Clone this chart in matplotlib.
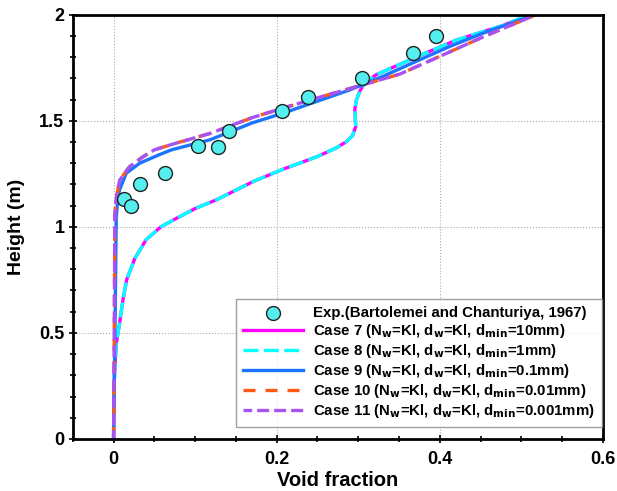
import matplotlib
matplotlib.use("Agg")
import matplotlib.pyplot as plt
from matplotlib.ticker import MultipleLocator

plt.rcParams['font.family'] = ['Liberation Sans', 'DejaVu Sans']
plt.rcParams['font.weight'] = 'bold'
plt.rcParams['mathtext.default'] = 'bf'

# experimental data (Bartolemei and Chanturiya, 1967)
exp_x = [0.013, 0.021, 0.033, 0.063, 0.103, 0.128, 0.142, 0.207, 0.238, 0.305, 0.367, 0.395]
exp_y = [1.13, 1.10, 1.20, 1.256, 1.38, 1.377, 1.45, 1.544, 1.612, 1.70, 1.82, 1.90]

# Case 7 / Case 8 (coincide)
c78_x = [0.0, 0.0003, 0.0012, 0.0033, 0.0074, 0.0115, 0.0160, 0.026, 0.040, 0.058,
         0.077, 0.101, 0.126, 0.151, 0.172, 0.208, 0.249, 0.272, 0.285, 0.293,
         0.297, 0.2965, 0.2958, 0.298, 0.302, 0.308, 0.322, 0.371, 0.420, 0.478, 0.510]
c78_y = [0.0, 0.20, 0.31, 0.45, 0.546, 0.656, 0.75, 0.85, 0.94, 1.0,
         1.04, 1.088, 1.127, 1.175, 1.215, 1.272, 1.33, 1.37, 1.40, 1.43,
         1.473, 1.51, 1.552, 1.60, 1.64, 1.678, 1.717, 1.80, 1.88, 1.95, 2.0]

# Case 9
c9_x = [0.0, 0.002, 0.0033, 0.005, 0.0074, 0.0156, 0.032, 0.056, 0.071, 0.118,
        0.170, 0.208, 0.249, 0.290, 0.330, 0.371, 0.412, 0.453, 0.517]
c9_y = [0.0, 0.60, 1.047, 1.12, 1.175, 1.253, 1.30, 1.34, 1.363, 1.41,
        1.49, 1.536, 1.591, 1.646, 1.709, 1.78, 1.85, 1.913, 2.0]

# Case 10 / Case 11 (nearly coincide)
c10_x = [0.0, 0.001, 0.0015, 0.003, 0.0074, 0.0196, 0.036, 0.050, 0.077, 0.118,
         0.170, 0.208, 0.249, 0.306, 0.351, 0.392, 0.453, 0.518]
c10_y = [0.0, 0.60, 1.05, 1.127, 1.22, 1.284, 1.33, 1.363, 1.395, 1.44,
         1.515, 1.56, 1.607, 1.67, 1.72, 1.79, 1.895, 2.0]
c11_x = c10_x
c11_y = c10_y

labels = [
    "Exp.(Bartolemei and Chanturiya, 1967)",
    r"Case 7 (N$_w$=Kl, d$_w$=Kl, d$_{min}$=10mm)",
    r"Case 8 (N$_w$=Kl, d$_w$=Kl, d$_{min}$=1mm)",
    r"Case 9 (N$_w$=Kl, d$_w$=Kl, d$_{min}$=0.1mm)",
    r"Case 10 (N$_w$=Kl, d$_w$=Kl, d$_{min}$=0.01mm)",
    r"Case 11 (N$_w$=Kl, d$_w$=Kl, d$_{min}$=0.001mm)",
]

fig = plt.figure(figsize=(6.17, 4.91), dpi=100)
ax = fig.add_axes([0.118, 0.106, 0.859, 0.864])

lw = 2.4
ax.plot(c78_x, c78_y, color="#FF00FF", lw=lw, label=labels[1])
ax.plot(c78_x, c78_y, color="#00FFFF", lw=lw, ls=(0, (4.5, 1.6)), label=labels[2])
ax.plot(c9_x, c9_y, color="#1A75FF", lw=lw, label=labels[3])
ax.plot(c10_x, c10_y, color="#FF5A14", lw=lw, ls=(0, (3.6, 3.0)), label=labels[4])
ax.plot(c11_x, c11_y, color="#A652F5", lw=lw, ls=(1, (3.6, 1.5)), label=labels[5])
ax.scatter(exp_x, exp_y, s=100, color="#55EEEE", edgecolor="#222222", lw=1.0,
           zorder=5, label=labels[0])

ax.set_xlim(-0.05, 0.6)
ax.set_ylim(0, 2)
ax.xaxis.set_minor_locator(MultipleLocator(0.05))
ax.yaxis.set_minor_locator(MultipleLocator(0.1))
ax.set_xticks([0, 0.2, 0.4, 0.6])
ax.set_xticklabels(["0", "0.2", "0.4", "0.6"])
ax.set_yticks([0, 0.5, 1, 1.5, 2])
ax.set_yticklabels(["0", "0.5", "1", "1.5", "2"])
ax.tick_params(which="both", direction="inout", top=False, right=False, labelsize=13, width=1.2)
ax.tick_params(which="major", length=6)
ax.tick_params(which="minor", length=4)
ax.tick_params(axis="x", pad=6)
ax.tick_params(axis="y", pad=3)
for lab in ax.get_xticklabels() + ax.get_yticklabels():
    lab.set_fontweight("bold")
ax.grid(True, which="major", ls=":", color="#aaaaaa", lw=0.8)
for sp in ax.spines.values():
    sp.set_linewidth(2)

ax.set_xlabel("Void fraction", fontsize=14.5, fontweight="bold", labelpad=2)
ax.set_ylabel("Height (m)", fontsize=14, fontweight="bold", labelpad=10)

handles, labs = ax.get_legend_handles_labels()
order = [5, 0, 1, 2, 3, 4]
leg = ax.legend([handles[i] for i in order], [labs[i] for i in order],
                loc="lower right", fontsize=10.8, frameon=True, fancybox=False,
                edgecolor="#888888", handlelength=4.0, handletextpad=0.7,
                borderpad=0.45, labelspacing=0.14, borderaxespad=0,
                bbox_to_anchor=(0.998, 0.028))
leg.get_frame().set_linewidth(1.0)
for t in leg.get_texts():
    t.set_fontweight("bold")

fig.savefig("out.png", dpi=100)
